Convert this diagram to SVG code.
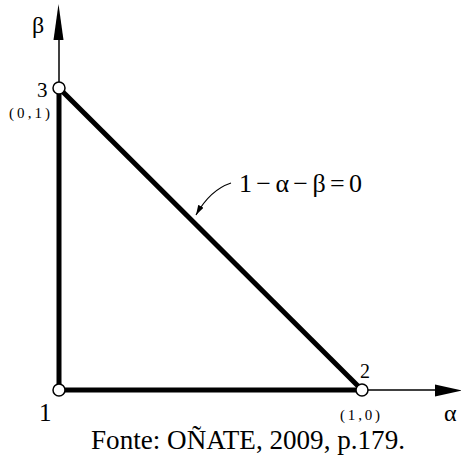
<svg xmlns="http://www.w3.org/2000/svg" width="461" height="455" viewBox="0 0 461 455">
<style>
.edge{stroke:#000;stroke-width:5;fill:none;stroke-linecap:butt}
.axis{stroke:#000;stroke-width:1.5;fill:none}
.node{fill:#fff;stroke:#000;stroke-width:1.5}
.t{font-family:"Liberation Serif","Times New Roman",serif;fill:#000}
</style>
<defs>
<marker id="lead" viewBox="0 0 10 6" refX="10" refY="3" markerWidth="10" markerHeight="6" markerUnits="userSpaceOnUse" orient="auto">
<path d="M0,0 L10,3 L0,6 Z" fill="#000"/>
</marker>
</defs>
<rect width="461" height="455" fill="#fff"/>
<g id="axes">
<line class="axis" x1="59" y1="82" x2="59" y2="38"/>
<polygon points="58.5,4 53.5,40 63.5,40" fill="#000"/>
<text class="t" x="32" y="33" font-size="24">β</text>
<line class="axis" x1="368" y1="390" x2="436" y2="390"/>
<polygon points="435,384.5 435,396.5 462,390.5" fill="#000"/>
<text class="t" x="444" y="421" font-size="24">α</text>
</g>
<g id="connectors">
<line class="edge" x1="59" y1="88" x2="59" y2="390"/>
<line class="edge" x1="59" y1="390" x2="362" y2="390"/>
<line class="edge" x1="59" y1="88" x2="362" y2="390"/>
<path d="M231,183 Q210,190 196,215" stroke="#000" stroke-width="1.2" fill="none" marker-end="url(#lead)"/>
<text class="t" x="239" y="192" font-size="26" textLength="123" lengthAdjust="spacing">1−α−β=0</text>
</g>
<g id="node1">
<circle class="node" cx="59" cy="390" r="6"/>
<text class="t" x="39" y="421" font-size="25">1</text>
</g>
<g id="node2">
<circle class="node" cx="362" cy="390" r="6"/>
<text class="t" x="360" y="378" font-size="20">2</text>
<text class="t" x="340" y="420" font-size="15" textLength="40" lengthAdjust="spacing">(1,0)</text>
</g>
<g id="node3">
<circle class="node" cx="59" cy="88" r="6"/>
<text class="t" x="37" y="97" font-size="21">3</text>
<text class="t" x="9" y="118" font-size="15" textLength="41" lengthAdjust="spacing">(0,1)</text>
</g>
<text class="t" x="91" y="449" font-size="27" textLength="314" lengthAdjust="spacingAndGlyphs">Fonte: OÑATE, 2009, p.179.</text>
</svg>
